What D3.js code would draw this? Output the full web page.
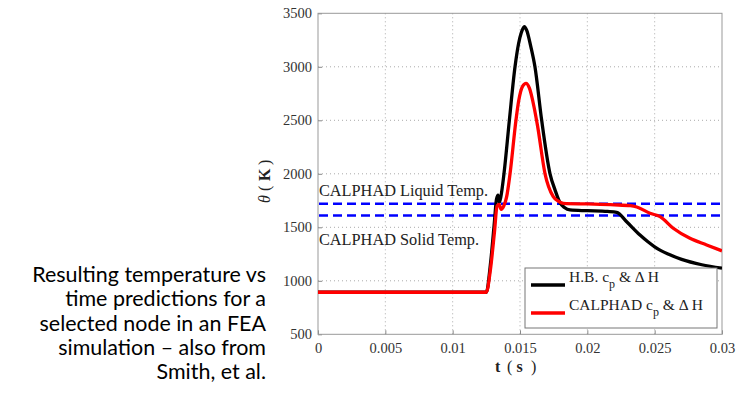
<!DOCTYPE html>
<html><head><meta charset="utf-8">
<script src="https://cdn.jsdelivr.net/npm/d3@7"></script>
<style>
html,body{margin:0;padding:0;background:#fff;}
svg{display:block;}
</style></head>
<body>
<svg id="chart" width="742" height="396"></svg>
<script>
// ---- data ----
const timeHB = [0, 0.0125, 0.0128, 0.0131, 0.01325, 0.01337, 0.01347, 0.01358, 0.01381, 0.01421, 0.01463, 0.0149, 0.0151, 0.01532, 0.0155, 0.0158, 0.01611, 0.01661, 0.01723, 0.0176, 0.01797, 0.0183, 0.01871, 0.0200, 0.0215, 0.02218, 0.02292, 0.02391, 0.0245, 0.0250, 0.0255, 0.0260, 0.0270, 0.0285, 0.0300];
const tempHB = [893, 893, 1150, 1550, 1760, 1800, 1735, 1786, 2000, 2500, 3000, 3220, 3320, 3375, 3340, 3190, 3000, 2500, 2000, 1850, 1730, 1685, 1662, 1655, 1648, 1640, 1552, 1428, 1365, 1318, 1280, 1250, 1200, 1150, 1118];

const timeCAL = [0, 0.0125, 0.0128, 0.0131, 0.0133, 0.01345, 0.0136, 0.0138, 0.01401, 0.01426, 0.0147, 0.0149, 0.0152, 0.01545, 0.0157, 0.01605, 0.0163, 0.01686, 0.01747, 0.0179, 0.01822, 0.0200, 0.0220, 0.0232, 0.02367, 0.02465, 0.0254, 0.02638, 0.02762, 0.02886, 0.0300];
const tempCAL = [893, 893, 1100, 1450, 1700, 1715, 1668, 1700, 1786, 2000, 2500, 2680, 2820, 2846, 2800, 2620, 2450, 2000, 1786, 1740, 1724, 1718, 1710, 1702, 1690, 1631, 1600, 1491, 1397, 1335, 1280];

const liquidTemp = 1720;
const solidTemp = 1610;

const xTicks = [0, 0.005, 0.01, 0.015, 0.02, 0.025, 0.03];
const xTickLabels = ["0", "0.005", "0.01", "0.015", "0.02", "0.025", "0.03"];
const yTicks = [500, 1000, 1500, 2000, 2500, 3000, 3500];
const yTickLabels = ["500", "1000", "1500", "2000", "2500", "3000", "3500"];

const captionLines = ["Resulting temperature vs", "time predictions for a", "selected node in an FEA", "simulation \u2013 also from", "Smith, et al."];

// ---- drawing ----
const svg = d3.select("#chart");
const L = 318, R = 722, T = 13.3, B = 334.3;
const x = d3.scaleLinear().domain([0, 0.03]).range([L, R]);
const y = d3.scaleLinear().domain([500, 3500]).range([B, T]);
const serif = "'Liberation Serif','Times New Roman',serif";

// grid
const grid = svg.append("g");
grid.selectAll("line.gx").data(xTicks.slice(1, -1)).join("line")
  .attr("x1", d => x(d)).attr("x2", d => x(d)).attr("y1", T).attr("y2", B)
  .attr("stroke", "#aaa").attr("stroke-width", 1).attr("stroke-dasharray", "1,3");
grid.selectAll("line.gy").data(yTicks.slice(1, -1)).join("line")
  .attr("x1", L).attr("x2", R).attr("y1", d => y(d)).attr("y2", d => y(d))
  .attr("stroke", "#aaa").attr("stroke-width", 1).attr("stroke-dasharray", "1,3");

// axes
const fmtX = d => xTickLabels[xTicks.indexOf(d)];
const fmtY = d => yTickLabels[yTicks.indexOf(d)];
const xAxis = svg.append("g").attr("transform", `translate(0,${B})`)
  .call(d3.axisBottom(x).tickValues(xTicks).tickFormat(fmtX).tickSize(-4).tickPadding(10));
const yAxis = svg.append("g").attr("transform", `translate(${L},0)`)
  .call(d3.axisLeft(y).tickValues(yTicks).tickFormat(fmtY).tickSize(-4).tickPadding(6));
[xAxis, yAxis].forEach(a => {
  a.select(".domain").remove();
  a.selectAll(".tick line").attr("stroke", "#888");
  a.selectAll(".tick text").attr("font-family", serif).attr("font-size", 14.5).attr("fill", "#333");
});
xAxis.selectAll(".tick text").attr("dy", "0.6em");

// frame
svg.append("rect").attr("x", L).attr("y", T).attr("width", R - L).attr("height", B - T)
  .attr("fill", "none").attr("stroke", "#999").attr("stroke-width", 1);

// dashed reference lines
svg.selectAll("line.ref").data([liquidTemp, solidTemp]).join("line")
  .attr("x1", L + 1).attr("x2", R).attr("y1", d => y(d)).attr("y2", d => y(d))
  .attr("stroke", "#0000ff").attr("stroke-width", 2.6).attr("stroke-dasharray", "9,5");

// annotations
svg.append("text").attr("x", L + 1).attr("y", y(liquidTemp) - 8).attr("font-family", serif)
  .attr("font-size", 16.3).attr("fill", "#222").text("CALPHAD Liquid Temp.");
svg.append("text").attr("x", L + 1).attr("y", y(solidTemp) + 29).attr("font-family", serif)
  .attr("font-size", 16.3).attr("fill", "#222").text("CALPHAD Solid Temp.");

// curves
const line = d3.line().x(d => x(d[0])).y(d => y(d[1])).curve(d3.curveMonotoneX);
svg.append("clipPath").attr("id", "clip").append("rect")
  .attr("x", L).attr("y", T).attr("width", R - L).attr("height", B - T);
svg.append("path").datum(d3.zip(timeHB, tempHB)).attr("d", line)
  .attr("fill", "none").attr("stroke", "#000").attr("stroke-width", 3.3).attr("stroke-linejoin", "round")
  .attr("clip-path", "url(#clip)");
svg.append("path").datum(d3.zip(timeCAL, tempCAL)).attr("d", line)
  .attr("fill", "none").attr("stroke", "#ff0000").attr("stroke-width", 3.3).attr("stroke-linejoin", "round")
  .attr("clip-path", "url(#clip)");

// legend
const lg = svg.append("g");
lg.append("rect").attr("x", 525).attr("y", 268).attr("width", 192).attr("height", 60)
  .attr("fill", "#fff").attr("stroke", "#777").attr("stroke-width", 1);
const legendItems = [{name: "H.B.", color: "#000", yy: 285}, {name: "CALPHAD", color: "#ff0000", yy: 313}];
legendItems.forEach(it => {
  lg.append("line").attr("x1", 531).attr("x2", 565).attr("y1", it.yy).attr("y2", it.yy)
    .attr("stroke", it.color).attr("stroke-width", 3.3);
  const t = lg.append("text").attr("x", 569).attr("y", it.yy - 3).attr("font-family", serif)
    .attr("font-size", 15.5).attr("fill", "#222");
  t.append("tspan").text(it.name + " c");
  t.append("tspan").attr("dy", 6).attr("font-size", 12).text("p");
  t.append("tspan").attr("dy", -6).text(" & \u0394 H");
});

// axis titles
const xl = svg.append("text").attr("y", 372)
  .attr("font-family", serif).attr("font-size", 16).attr("fill", "#222");
xl.append("tspan").attr("x", 495).attr("font-weight", "bold").text("t");
xl.append("tspan").attr("x", 507).text("(");
xl.append("tspan").attr("x", 516.5).attr("font-weight", "bold").text("s");
xl.append("tspan").attr("x", 531).text(")");

const yl = svg.append("text").attr("transform", "translate(270,203) rotate(-90)")
  .attr("font-family", serif).attr("font-size", 16).attr("fill", "#222");
yl.append("tspan").attr("x", 0).attr("font-style", "italic").text("\u03b8");
yl.append("tspan").attr("x", 12).text("(");
yl.append("tspan").attr("x", 22).attr("font-weight", "bold").text("K");
yl.append("tspan").attr("x", 38).text(")");

// caption
const capTexts = svg.append("g").selectAll("text").data(captionLines).join("text")
  .attr("x", 266)
  .attr("y", (d, i) => 282 + i * 24.3)
  .attr("text-anchor", "end")
  .attr("font-family", "Lato,'Open Sans',sans-serif")
  .attr("font-size", 20).attr("fill", "#000").text(d => d);
const w0 = capTexts.nodes()[0].getComputedTextLength();
capTexts.attr("font-size", 20 * 234 / w0);
</script>
</body></html>
